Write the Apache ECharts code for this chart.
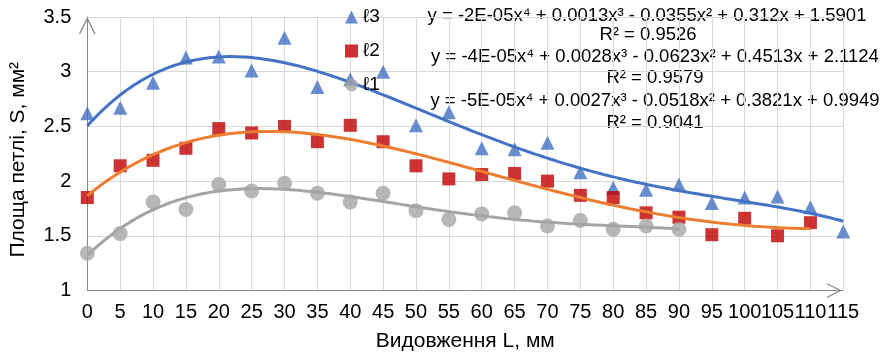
<!DOCTYPE html>
<html><head><meta charset="utf-8">
<script src="https://cdn.jsdelivr.net/npm/echarts@6/dist/echarts.min.js"></script>
<style>html,body{margin:0;padding:0;background:#fff}#c{width:894px;height:355px}</style>
</head><body><div id="c"></div>
<script>
// ---- data ----
const xCategories = [0,5,10,15,20,25,30,35,40,45,50,55,60,65,70,75,80,85,90,95,100,105,110,115];
const yTicks = [1, 1.5, 2, 2.5, 3, 3.5];
const seriesNames = ['ℓ3', 'ℓ2', 'ℓ1'];
const l3 = [2.62, 2.67, 2.90, 3.13, 3.14, 3.01, 3.31, 2.86, 2.93, 3.00, 2.51, 2.63, 2.30, 2.29, 2.35, 2.08, 1.94, 1.92, 1.97, 1.80, 1.85, 1.86, 1.76, 1.54];
const l2 = [1.85, 2.14, 2.19, 2.30, 2.48, 2.44, 2.50, 2.36, 2.51, 2.36, 2.14, 2.02, 2.06, 2.07, 2.00, 1.87, 1.85, 1.71, 1.67, 1.51, 1.66, 1.50, 1.62];
const l1 = [1.34, 1.52, 1.81, 1.74, 1.97, 1.91, 1.98, 1.89, 1.81, 1.89, 1.73, 1.65, 1.70, 1.71, 1.59, 1.64, 1.56, 1.59, 1.56];
const trendLabels = [
  'y = -2E-05x\u2074 + 0.0013x\u00b3 - 0.0355x\u00b2 + 0.312x + 1.5901', 'R\u00b2 = 0.9526',
  'y = -4E-05x\u2074 + 0.0028x\u00b3 - 0.0623x\u00b2 + 0.4513x + 2.1124', 'R\u00b2 = 0.9579',
  'y = -5E-05x\u2074 + 0.0027x\u00b3 - 0.0518x\u00b2 + 0.3821x + 0.9949', 'R\u00b2 = 0.9041'
];
const xName = 'Видовження L, мм';
const yName = 'Площа петлі, S, мм²';

// ---- 4th-order least-squares trend (Excel-style, x = point index 1..n) ----
function polyfit(ys, deg) {
  const n = deg + 1;
  const A = Array.from({length: n}, () => new Array(n + 1).fill(0));
  ys.forEach((y, i) => {
    const s = (i + 1) / 10;
    const p = [];
    for (let k = 0; k < 2 * n; k++) p.push(Math.pow(s, k));
    for (let r = 0; r < n; r++) {
      for (let c = 0; c < n; c++) A[r][c] += p[r + c];
      A[r][n] += p[r] * y;
    }
  });
  for (let col = 0; col < n; col++) {
    let piv = col;
    for (let r = col + 1; r < n; r++) if (Math.abs(A[r][col]) > Math.abs(A[piv][col])) piv = r;
    [A[col], A[piv]] = [A[piv], A[col]];
    for (let r = 0; r < n; r++) {
      if (r === col) continue;
      const f = A[r][col] / A[col][col];
      for (let c = col; c <= n; c++) A[r][c] -= f * A[col][c];
    }
  }
  return A.map((row, i) => row[n] / row[i]);
}
function trend(ys) {
  const c = polyfit(ys, 4);
  const pts = [];
  for (let t = 1; t <= ys.length + 1e-9; t += 0.05) {
    const s = t / 10;
    let v = 0;
    for (let k = c.length - 1; k >= 0; k--) v = v * s + c[k];
    pts.push([(t - 1) * (xCategories[1] - xCategories[0]) + xCategories[0], v]);
  }
  return pts;
}
const pairs = ys => ys.map((v, i) => [xCategories[i], v]);

const FONT = "'Liberation Sans', Arial, sans-serif";
const chevron = 'path://M0 100 L50 0 L100 100 L91 100 L50 18 L9 100 Z';
const axisGray = '#8a8a8a';
const eqFont = '18.5px ' + FONT;

const chart = echarts.init(document.getElementById('c'), null, {renderer: 'canvas'});
chart.setOption({
  animation: false,
  backgroundColor: '#fff',
  textStyle: {fontFamily: FONT},
  grid: {left: 87.3, right: 50.7, top: 17, bottom: 64.5, containLabel: false, outerBoundsMode: 'none'},
  legend: {
    data: seriesNames.map((n, i) => ({name: n, icon: ['triangle', 'rect', 'circle'][i]})),
    orient: 'vertical', left: 340, top: 2, itemWidth: 13, itemHeight: 13, itemGap: 14,
    textStyle: {fontSize: 19, color: '#000', fontFamily: FONT, lineHeight: 20}
  },
  xAxis: {
    type: 'value', min: xCategories[0], max: xCategories[xCategories.length - 1], interval: 5,
    name: xName, nameLocation: 'middle', nameGap: 40,
    nameTextStyle: {fontSize: 21, color: '#000', fontFamily: FONT},
    axisLine: {show: true, lineStyle: {color: axisGray, width: 1},
      symbol: ['none', chevron], symbolSize: [15, 18], symbolOffset: [0, -9]},
    axisTick: {show: false},
    axisLabel: {fontSize: 20, color: '#000', margin: 12, fontFamily: FONT, showMaxLabel: true, showMinLabel: true, hideOverlap: false},
    splitLine: {show: true, lineStyle: {color: '#d9d9d9', width: 1}}
  },
  yAxis: {
    type: 'value', min: yTicks[0], max: yTicks[yTicks.length - 1], interval: 0.5,
    name: yName, nameLocation: 'middle', nameGap: 59,
    nameTextStyle: {fontSize: 21, color: '#000', fontFamily: FONT, padding: [0, 12, 0, 0]},
    axisLine: {show: true, lineStyle: {color: axisGray, width: 1},
      symbol: ['none', chevron], symbolSize: [20, 17], symbolOffset: [0, -8.5]},
    axisTick: {show: false},
    axisLabel: {fontSize: 20, color: '#000', margin: 16, fontFamily: FONT},
    splitLine: {show: true, lineStyle: {color: '#d9d9d9', width: 1}}
  },
  graphic: [
    {type: 'text', x: 647, y: 16, style: {text: trendLabels[0], font: eqFont, fill: '#000', align: 'center', verticalAlign: 'middle'}},
    {type: 'text', x: 648, y: 35, style: {text: trendLabels[1], font: eqFont, fill: '#000', align: 'center', verticalAlign: 'middle'}},
    {type: 'text', x: 655, y: 57, style: {text: trendLabels[2], font: eqFont, fill: '#000', align: 'center', verticalAlign: 'middle'}},
    {type: 'text', x: 655, y: 78, style: {text: trendLabels[3], font: eqFont, fill: '#000', align: 'center', verticalAlign: 'middle'}},
    {type: 'text', x: 655, y: 101, style: {text: trendLabels[4], font: eqFont, fill: '#000', align: 'center', verticalAlign: 'middle'}},
    {type: 'text', x: 655, y: 123, style: {text: trendLabels[5], font: eqFont, fill: '#000', align: 'center', verticalAlign: 'middle'}}
  ],
  series: [
    {name: seriesNames[0], type: 'scatter', symbol: 'triangle', symbolSize: 14, data: pairs(l3), itemStyle: {color: '#4472C4'}, z: 2},
    {name: seriesNames[1], type: 'scatter', symbol: 'rect', symbolSize: 13, data: pairs(l2), itemStyle: {color: '#C00000'}, z: 2},
    {name: seriesNames[2], type: 'scatter', symbol: 'circle', symbolSize: 15, data: pairs(l1), itemStyle: {color: '#A5A5A5'}, z: 2},
    {name: 'trend3', type: 'line', data: trend(l3), showSymbol: false, symbol: 'none', lineStyle: {color: '#4472C4', width: 3}, z: 3, silent: true},
    {name: 'trend2', type: 'line', data: trend(l2), showSymbol: false, symbol: 'none', lineStyle: {color: '#ED7D31', width: 3}, z: 3, silent: true},
    {name: 'trend1', type: 'line', data: trend(l1), showSymbol: false, symbol: 'none', lineStyle: {color: '#A5A5A5', width: 3}, z: 3, silent: true}
  ]
});
</script>
</body></html>
